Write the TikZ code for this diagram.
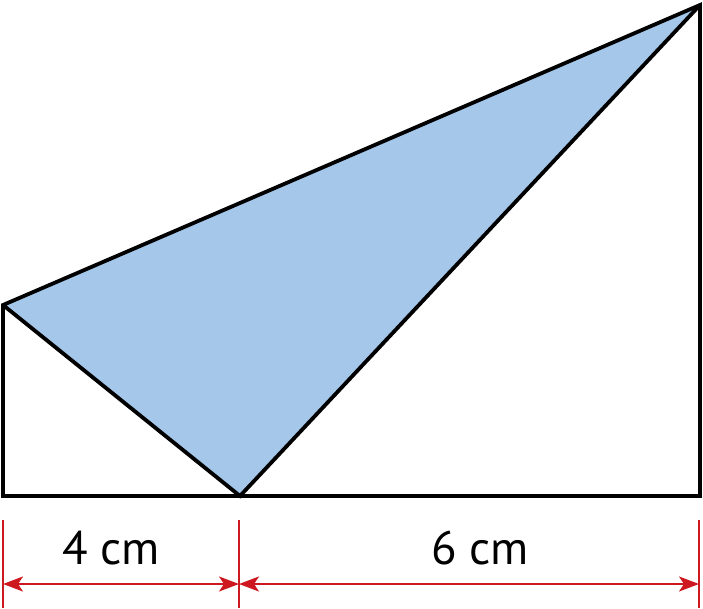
\documentclass[tikz,border=0pt]{standalone}
\usepackage{fontspec}
\setmainfont{PT Sans}
\usepackage{tikz}
\usetikzlibrary{arrows.meta,calc}
\definecolor{dimred}{RGB}{204,24,30}
\definecolor{areablue}{RGB}{164,199,234}

\begin{document}
\begin{tikzpicture}[x=1pt,y=-1pt,
    dimline/.style={dimred,line width=2.2pt},
    dimarrow/.style={dimline,{Stealth[length=20pt,width=15pt,inset=5pt]}-{Stealth[length=20pt,width=15pt,inset=5pt]}},
    lbl/.style={font=\fontsize{47}{56}\selectfont,inner sep=0pt}]
    \useasboundingbox (0,0) rectangle (703,609);

    \coordinate (bl) at (3,496);
    \coordinate (m) at (240,496);
    \coordinate (br) at (700,496);
    \coordinate (tl) at (3,305);
    \coordinate (tr) at (700,5);

    \fill[areablue] (tl) -- (tr) -- (m) -- cycle;
    \draw[line width=3.8pt,line join=miter] (tl) -- (bl) -- (br) -- (tr) -- cycle;
    \draw[line width=3.8pt,line join=miter] (tl) -- (m) -- (tr);

    \coordinate (t1a) at (3,520);
    \coordinate (t1b) at (3,608);
    \coordinate (t2a) at (239,520);
    \coordinate (t2b) at (239,608);
    \coordinate (t3a) at (699,520);
    \coordinate (t3b) at (699,608);
    \draw[dimline] (t1a) -- (t1b);
    \draw[dimline] (t2a) -- (t2b);
    \draw[dimline] (t3a) -- (t3b);

    \coordinate (a1) at (3,584);
    \coordinate (a2) at (239,584);
    \coordinate (a3) at (699,584);
    \draw[dimarrow] (a1) -- (a2);
    \draw[dimarrow] (a2) -- (a3);

    \node (four) [lbl] at (111,548) {4 cm};
    \node (six) [lbl] at (480,548) {6 cm};

  \end{tikzpicture}
\end{document}
